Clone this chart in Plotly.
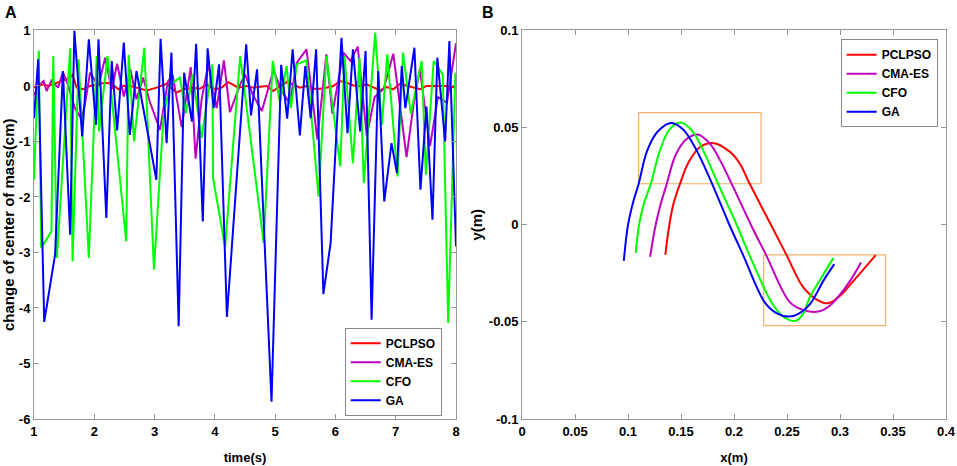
import plotly.graph_objects as go

# panel A: change of center of mass over time
pclpso_t = [1.00, 1.07, 1.155, 1.238, 1.35, 1.487, 1.597, 1.64, 1.708, 1.818, 1.929, 2.04, 2.178, 2.288,
            2.40, 2.48, 2.59, 2.70, 2.87, 3.035, 3.20, 3.366, 3.477, 3.643, 3.753, 3.864, 3.974, 4.085,
            4.223, 4.389, 4.53, 4.64, 4.75, 4.86, 4.97, 5.08, 5.19, 5.30, 5.41, 5.52, 5.63, 5.74, 5.85,
            5.965, 6.075, 6.186, 6.30, 6.41, 6.52, 6.63, 6.74, 6.85, 6.96, 7.07, 7.18, 7.29, 7.40, 7.51,
            7.62, 7.73, 7.84, 7.955, 8.00]
pclpso_v = [-0.03, 0.0, 0.03, 0.0, 0.04, 0.10, 0.15, 0.20, -0.03, -0.06, 0.0, 0.03, 0.06, 0.04,
            -0.06, 0.0, 0.0, -0.03, -0.08, -0.03, 0.04, -0.12, -0.06, -0.03, -0.05, 0.03, -0.05, -0.05,
            0.07, -0.03, 0.0, -0.03, -0.02, 0.0, -0.09, 0.0, 0.07, 0.03, -0.03, 0.0, -0.05, -0.05, -0.03,
            0.0, 0.09, 0.06, 0.01, 0.0, 0.03, -0.03, -0.08, -0.02, -0.06, 0.04, 0.01, -0.03, -0.06, 0.0,
            0.0, 0.01, 0.0, -0.02, -0.03]

cmaes_t = [1.00, 1.07, 1.16, 1.21, 1.29, 1.40, 1.48, 1.57, 1.68, 1.79, 1.85, 1.93, 2.07, 2.18, 2.29,
           2.38, 2.49, 2.60, 2.70, 2.81, 2.92, 3.09, 3.22, 3.30, 3.45, 3.60, 3.68, 3.78, 3.89, 4.03,
           4.15, 4.25, 4.42, 4.50, 4.63, 4.78, 4.97, 5.11, 5.24, 5.36, 5.52, 5.70, 5.85, 5.95, 6.13,
           6.25, 6.37, 6.52, 6.65, 6.80, 6.96, 7.05, 7.18, 7.30, 7.40, 7.57, 7.70, 7.85, 8.00]
cmaes_v = [-0.17, 0.0, 0.09, -0.09, 0.10, -0.03, 0.25, 0.0, -0.40, -0.60, -0.30, 0.24, 0.0, 0.51, -0.06,
           0.40, -0.19, 0.30, -0.24, 0.15, -0.28, -0.79, 0.08, 0.20, -0.74, 0.34, -1.31, -0.25, 0.39, -0.40,
           0.46, -0.47, 0.03, 0.21, -0.16, -0.45, 0.28, -0.09, -0.31, 0.42, 0.66, -0.96, 0.57, -0.50, 0.60,
           0.45, 0.71, -0.90, -0.20, -0.05, 0.58, -0.20, -1.28, -0.30, 0.30, -1.08, -0.20, -0.30, 0.77]

cfo_t = [1.00, 1.08, 1.12, 1.29, 1.32, 1.38, 1.60, 1.64, 1.74, 1.91, 2.04, 2.08, 2.22, 2.53, 2.57,
         2.66, 2.83, 2.99, 3.15, 3.26, 3.42, 3.52, 3.63, 3.78, 3.96, 3.97, 4.17, 4.42, 4.81, 4.96,
         5.08, 5.19, 5.26, 5.36, 5.52, 5.72, 5.85, 6.08, 6.15, 6.29, 6.40, 6.47, 6.66, 6.77, 6.86,
         7.03, 7.12, 7.25, 7.43, 7.50, 7.63, 7.78, 7.87, 7.99]
cfo_v = [-1.69, 0.64, -2.92, -2.62, 0.54, -3.10, 0.68, -3.16, 0.48, -3.10, 0.54, -0.82, 0.54, -2.80, 0.56,
         -1.00, 0.69, -3.31, -0.52, 0.03, 0.15, -0.49, 0.21, -0.94, 0.39, -1.66, -2.90, 0.54, -2.83, 0.45,
         -0.30, 0.36, -0.40, 0.39, 0.46, -1.99, 0.54, -1.45, 0.54, -1.39, 0.51, -1.75, 0.96, -0.70, 0.57,
         -1.63, 0.60, -0.50, 0.45, -1.60, 0.45, 0.21, -4.27, 0.24]

ga_t = [1.00, 1.07, 1.17, 1.35, 1.48, 1.60, 1.67, 1.80, 1.91, 2.03, 2.07, 2.20, 2.29, 2.38, 2.49,
        2.59, 2.70, 3.03, 3.10, 3.20, 3.28, 3.40, 3.49, 3.62, 3.69, 3.80, 3.88, 3.98, 4.07, 4.20,
        4.52, 4.60, 4.70, 4.94, 5.10, 5.20, 5.29, 5.41, 5.50, 5.59, 5.68, 5.80, 5.92, 6.10, 6.20,
        6.29, 6.41, 6.50, 6.60, 6.71, 6.81, 6.93, 7.02, 7.10, 7.16, 7.31, 7.41, 7.51, 7.61, 7.69,
        7.82, 7.89, 8.00]
ga_v = [-0.58, 0.48, -4.25, -3.04, 0.27, -2.68, 1.00, -0.91, 0.84, -0.70, 0.84, -2.38, 0.45, -0.80, 0.78,
        -0.88, 0.27, -1.69, 0.85, -1.03, 0.60, -4.33, 0.24, -0.64, 0.76, -2.44, 0.68, -0.40, 0.39, -4.16,
        0.75, -0.53, 0.30, -5.69, 0.38, -0.59, 0.66, -0.89, 0.36, -0.58, 0.66, -3.75, -2.83, 0.87, -0.85,
        0.66, -0.82, 0.63, -4.21, 0.27, -2.08, -1.03, -1.57, 0.36, -0.40, 0.69, -1.87, -0.37, -2.41, 0.51,
        -1.00, 0.81, -2.89]

# panel B: trajectories in the x-y plane
pclpso_x = [0.1352, 0.139, 0.143, 0.149, 0.157, 0.168, 0.181, 0.1962, 0.2057, 0.2135, 0.2321, 0.249,
            0.2654, 0.278, 0.289, 0.300, 0.3125, 0.3337]
pclpso_y = [-0.0155, 0.0, 0.011, 0.021, 0.032, 0.040, 0.042, 0.0375, 0.0313, 0.0225, 0.0028, -0.015,
            -0.0323, -0.0385, -0.0404, -0.0366, -0.029, -0.0156]

cmaes_x = [0.1208, 0.1261, 0.131, 0.1365, 0.145, 0.155, 0.1657, 0.1774, 0.187, 0.1978, 0.2159, 0.2302,
           0.2528, 0.266, 0.2796, 0.290, 0.300, 0.310, 0.3198]
cmaes_y = [-0.0165, 0.0, 0.011, 0.021, 0.036, 0.044, 0.0464, 0.0416, 0.033, 0.021, 0.0, -0.0155,
           -0.040, -0.044, -0.0447, -0.0418, -0.036, -0.0285, -0.0194]

cfo_x = [0.1072, 0.1104, 0.115, 0.1214, 0.130, 0.139, 0.150, 0.161, 0.172, 0.185, 0.2025, 0.2145,
         0.2355, 0.247, 0.258, 0.265, 0.2717, 0.2827, 0.2937]
cfo_y = [-0.0146, 0.0, 0.011, 0.021, 0.038, 0.049, 0.0526, 0.048, 0.037, 0.021, 0.0, -0.0155,
         -0.040, -0.0475, -0.0495, -0.046, -0.0371, -0.027, -0.0172]

ga_x = [0.096, 0.100, 0.105, 0.110, 0.118, 0.128, 0.141, 0.152, 0.163, 0.1774, 0.1956, 0.2085,
        0.229, 0.240, 0.252, 0.262, 0.2717, 0.2843, 0.2946]
ga_y = [-0.0186, 0.0, 0.012, 0.021, 0.038, 0.048, 0.0524, 0.049, 0.040, 0.0235, 0.0, -0.0155,
        -0.040, -0.0455, -0.0473, -0.0455, -0.0409, -0.0289, -0.0203]

# highlighted regions in panel B (x0, x1, y0, y1)
box_top = [0.110, 0.2255, 0.0211, 0.0577]
box_bottom = [0.228, 0.343, -0.0519, -0.0155]

names = ["PCLPSO", "CMA-ES", "CFO", "GA"]
colors = ["#ff0000", "#bf00bf", "#00ff00", "#0000ff"]

a_xticks = [1, 2, 3, 4, 5, 6, 7, 8]
a_xtext = ["1", "2", "3", "4", "5", "6", "7", "8"]
a_yticks = [1, 0, -1, -2, -3, -4, -5, -6]
a_ytext = ["1", "0", "-1", "-2", "-3", "-4", "-5", "-6"]
b_xticks = [0, 0.05, 0.1, 0.15, 0.2, 0.25, 0.3, 0.35, 0.4]
b_xtext = ["0", "0.05", "0.1", "0.15", "0.2", "0.25", "0.3", "0.35", "0.4"]
b_yticks = [-0.1, -0.05, 0, 0.05, 0.1]
b_ytext = ["-0.1", "-0.05", "0", "0.05", "0.1"]

font = "Liberation Sans, Arial, sans-serif"

fig = go.Figure()

series_a = [(pclpso_t, pclpso_v), (cmaes_t, cmaes_v), (cfo_t, cfo_v), (ga_t, ga_v)]
for (t, v), name, c in zip(series_a, names, colors):
    fig.add_trace(go.Scatter(x=t, y=v, mode="lines", name=name, line=dict(color=c, width=2),
                             xaxis="x", yaxis="y", legend="legend"))

series_b = [(pclpso_x, pclpso_y), (cmaes_x, cmaes_y), (cfo_x, cfo_y), (ga_x, ga_y)]
for (x, y), name, c in zip(series_b, names, colors):
    fig.add_trace(go.Scatter(x=x, y=y, mode="lines", name=name, line=dict(color=c, width=2, shape="spline"),
                             xaxis="x2", yaxis="y2", legend="legend2"))

for b in [box_top, box_bottom]:
    fig.add_shape(type="rect", xref="x2", yref="y2", x0=b[0], x1=b[1], y0=b[2], y1=b[3],
                  line=dict(color="#f4b06a", width=1.2), layer="below")

axis_common = dict(showline=True, linecolor="#999999", linewidth=1, mirror="ticks",
                   ticks="inside", ticklen=5, tickcolor="#999999", showgrid=False, zeroline=False,
                   automargin=False,
                   tickfont=dict(family=font, size=13, color="black", weight="bold"))

ydom = [0.1009, 0.9346]

fig.update_layout(
    width=957, height=466,
    margin=dict(l=0, r=0, t=0, b=0),
    paper_bgcolor="white", plot_bgcolor="white",
    font=dict(family=font, color="black"),
    xaxis=dict(domain=[0.0355, 0.4765], range=[1, 8], tickvals=a_xticks, ticktext=a_xtext,
               title=dict(text="time(s)", font=dict(size=13, weight="bold")),
               anchor="y", **axis_common),
    yaxis=dict(domain=ydom, range=[-6, 1], tickvals=a_yticks, ticktext=a_ytext,
               title=dict(text="change of center of mass(cm)", font=dict(size=15, weight="bold"), standoff=3),
               anchor="x", **axis_common),
    xaxis2=dict(domain=[0.5455, 0.9885], range=[0, 0.4], tickvals=b_xticks, ticktext=b_xtext,
                title=dict(text="x(m)", font=dict(size=13, weight="bold")),
                anchor="y2", **axis_common),
    yaxis2=dict(domain=ydom, range=[-0.1, 0.1], tickvals=b_yticks, ticktext=b_ytext,
                title=dict(text="y(m)", font=dict(size=15, weight="bold"), standoff=2),
                anchor="x2", **axis_common),
    legend=dict(x=0.4616, y=0.2968, xanchor="right", yanchor="top", bgcolor="white",
                bordercolor="#888888", borderwidth=1, itemwidth=30, tracegroupgap=0,
                font=dict(family=font, size=12, weight="bold")),
    legend2=dict(x=0.9798, y=0.9157, xanchor="right", yanchor="top", bgcolor="white",
                 bordercolor="#888888", borderwidth=1, itemwidth=30, tracegroupgap=0,
                 font=dict(family=font, size=12, weight="bold")),
    annotations=[
        dict(text="A", x=0.0115, y=0.974, xref="paper", yref="paper", showarrow=False,
             xanchor="center", yanchor="middle", font=dict(family=font, size=16, weight="bold")),
        dict(text="B", x=0.510, y=0.974, xref="paper", yref="paper", showarrow=False,
             xanchor="center", yanchor="middle", font=dict(family=font, size=16, weight="bold")),
    ],
)

# drop the page margin so the 957x466 figure fills the window exactly
fig.write_html("out.html", config={"displayModeBar": False},
               post_script="document.body.style.margin = '0';")
